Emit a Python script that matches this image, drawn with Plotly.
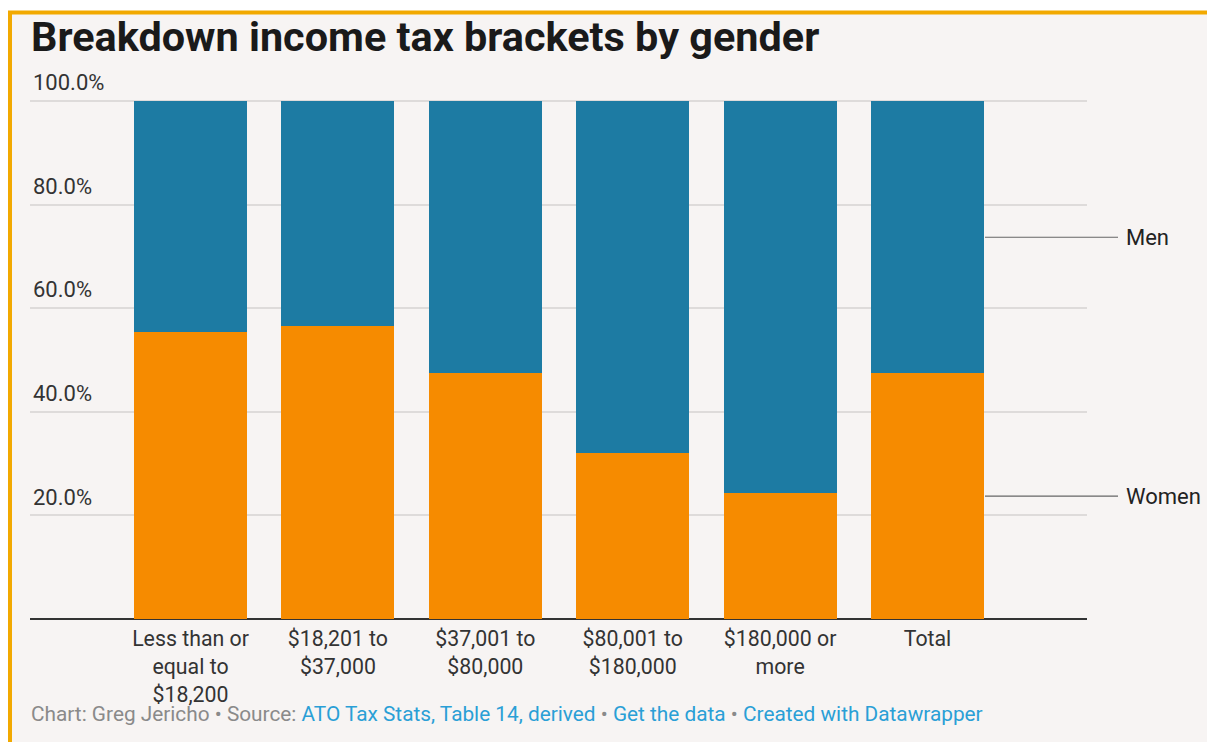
import plotly.graph_objects as go

categories = ["Less than or<br>equal to<br>$18,200", "$18,201 to<br>$37,000", "$37,001 to<br>$80,000",
              "$80,001 to<br>$180,000", "$180,000 or<br>more", "Total"]
women = [55.4, 56.6, 47.4, 32.0, 24.3, 47.4]
men = [44.6, 43.4, 52.6, 68.0, 75.7, 52.6]
y_ticks = [20, 40, 60, 80, 100]
y_tick_labels = ["20.0%", "40.0%", "60.0%", "80.0%", "100.0%"]

ORANGE = "#f68b00"
BLUE = "#1d7ba3"
BG = "#f7f4f3"
FONT = "Roboto"

fig = go.Figure()
fig.add_trace(go.Bar(x=categories, y=women, name="Women", marker=dict(color=ORANGE, line=dict(width=0))))
fig.add_trace(go.Bar(x=categories, y=men, name="Men", marker=dict(color=BLUE, line=dict(width=0))))

OFF = 8  # page body margin
W, H = 1215 - OFF, 742 - OFF
L = 30 - OFF
R = W - (1087 - OFF)
T = 70 - OFF
B = H - (624 - OFF)
pw, ph = W - L - R, H - T - B


def px_x(p):
    return (p - OFF - L) / pw


def px_y(p):
    return (H - B - (p - OFF)) / ph


shapes = [
    dict(type="rect", xref="paper", yref="paper", x0=px_x(10), x1=px_x(1240), y0=px_y(12.5), y1=px_y(770),
         fillcolor=BG, line=dict(color="#f2a900", width=4), layer="below"),
]
tot_w = women[-1]
tot_m = men[-1]
for yv in [tot_w / 2, tot_w + tot_m / 2]:
    shapes.append(dict(type="line", xref="paper", yref="y", x0=px_x(985), x1=px_x(1118), y0=yv, y1=yv,
                       line=dict(color="#666666", width=1.2)))

annotations = [
    dict(xref="paper", yref="y", x=px_x(1124), y=tot_w + tot_m / 2, text="Men", showarrow=False,
         xanchor="left", yanchor="middle", font=dict(family=FONT, size=22, color="#222")),
    dict(xref="paper", yref="y", x=px_x(1124), y=tot_w / 2, text="Women", showarrow=False,
         xanchor="left", yanchor="middle", font=dict(family=FONT, size=22, color="#222")),
    dict(xref="paper", yref="paper", x=px_x(29), y=px_y(714), xanchor="left", yanchor="middle", showarrow=False,
         text="Chart: Greg Jericho • Source: <span style='color:#2a9fd6'>ATO Tax Stats, Table 14, derived</span>"
              " • <span style='color:#2a9fd6'>Get the data</span> • "
              "<span style='color:#2a9fd6'>Created with Datawrapper</span>",
         font=dict(family=FONT, size=20.8, color="#8a8a8a")),
]

fig.update_layout(
    width=W, height=H,
    margin=dict(l=L, r=R, t=T, b=B, pad=0),
    paper_bgcolor="white",
    plot_bgcolor="rgba(0,0,0,0)",
    barmode="stack",
    bargap=0.233,
    showlegend=False,
    title=dict(text="<b>Breakdown income tax brackets by gender</b>", xref="container", yref="container",
               x=(31 - OFF) / W, y=1 - (37 - OFF) / H, xanchor="left", yanchor="middle",
               font=dict(family=FONT, size=41.4, color="#1a1a1a")),
    xaxis=dict(range=[-1.0889, 6.082], showgrid=False, ticks="", showline=False,
               tickfont=dict(family=FONT, size=21.3, color="#333")),
    yaxis=dict(range=[-1, 106], tickvals=y_ticks, ticktext=y_tick_labels, showgrid=True,
               gridcolor="#dedbda", gridwidth=1.5, zeroline=True, zerolinecolor="#333333", zerolinewidth=1.5,
               ticks="", showline=False, ticklabelposition="inside top", ticklabelshift=-3,
               tickfont=dict(family=FONT, size=22, color="#333")),
    shapes=shapes,
    annotations=annotations,
)

fig.write_html("out.html")
